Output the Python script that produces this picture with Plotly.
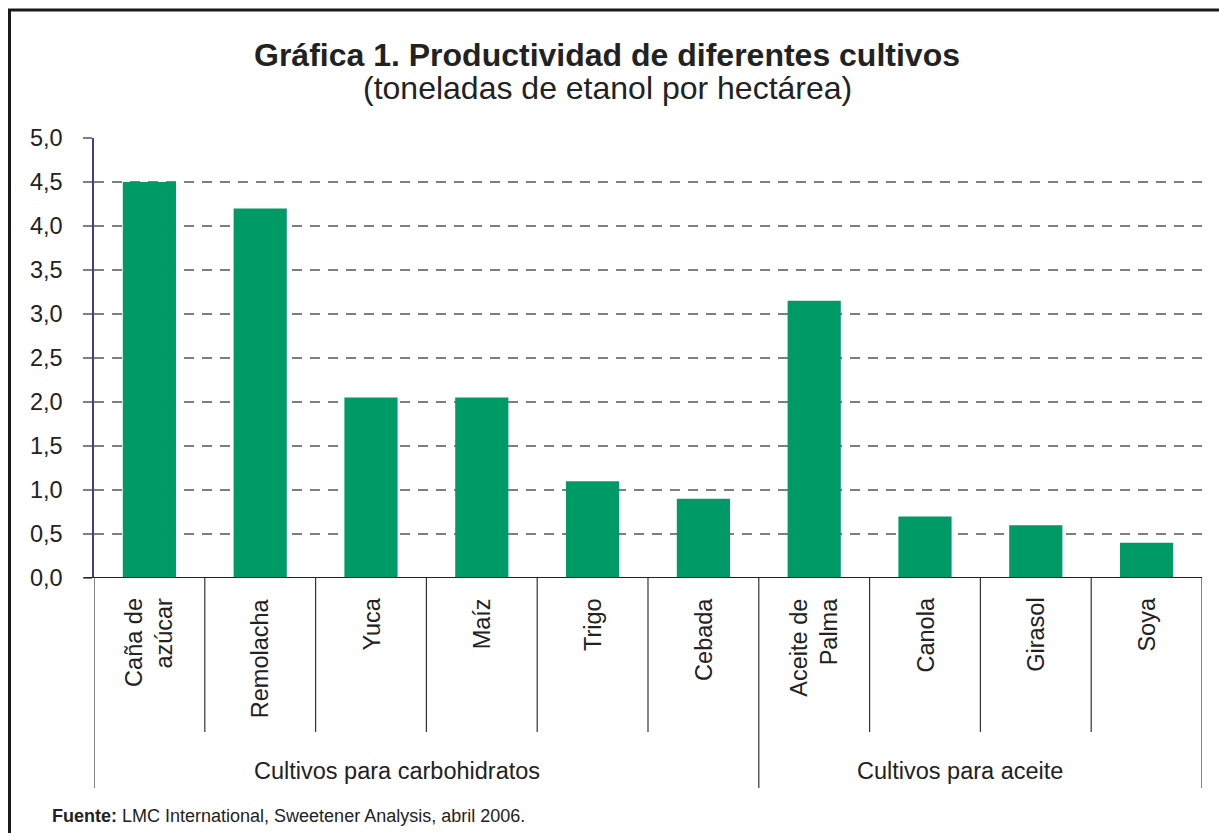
import plotly.graph_objects as go

crops = ["Caña de<br>azúcar", "Remolacha", "Yuca", "Maíz", "Trigo", "Cebada",
         "Aceite de<br>Palma", "Canola", "Girasol", "Soya"]
tons_per_ha = [4.5, 4.2, 2.05, 2.05, 1.1, 0.9, 3.15, 0.7, 0.6, 0.4]
groups = ["Cultivos para carbohidratos", "Cultivos para aceite"]
group_sizes = [6, 4]
y_ticks = [0, 0.5, 1, 1.5, 2, 2.5, 3, 3.5, 4, 4.5, 5]
y_tick_labels = ["0,0", "0,5", "1,0", "1,5", "2,0", "2,5", "3,0", "3,5", "4,0", "4,5", "5,0"]

W, H = 1219, 833
L, R, T, B = 94, 17, 138, 255
PW, PH = W - L - R, H - T - B


def px(x):
    return (x - L) / PW


def py(y):
    return (H - B - y) / PH


FONT = "Arial, Liberation Sans, sans-serif"
x_pos = list(range(len(crops)))

fig = go.Figure()
fig.add_trace(
    go.Bar(
        x=x_pos,
        y=tons_per_ha,
        width=0.48,
        marker=dict(color="#009a66", line=dict(width=0)),
        hoverinfo="skip",
    )
)

shapes = []
# outer frame
shapes.append(dict(type="rect", xref="paper", yref="paper",
                   x0=px(9.5), x1=px(1240), y0=py(10), y1=py(860),
                   line=dict(color="#1a1a1a", width=3)))
# x axis baseline
shapes.append(dict(type="line", xref="paper", yref="y", x0=px(84), x1=1,
                   y0=0, y1=0, line=dict(color="#222222", width=2)))
# category dividers
bounds = [0]
for n in group_sizes:
    bounds.append(bounds[-1] + n)
for i in range(len(crops) + 1):
    long_line = i in bounds
    shapes.append(dict(type="line", xref="x", yref="paper",
                       x0=i - 0.5, x1=i - 0.5, y0=0,
                       y1=py(788) if long_line else py(732),
                       line=dict(color="#333333", width=1.2)))

annotations = [
    dict(text="<b>Gráfica 1. Productividad de diferentes cultivos</b>",
         xref="paper", yref="paper", x=px(607), y=py(55),
         xanchor="center", yanchor="middle",
         showarrow=False, font=dict(size=32, color="#222222", family=FONT)),
    dict(text="(toneladas de etanol por hectárea)",
         xref="paper", yref="paper", x=px(607), y=py(88),
         xanchor="center", yanchor="middle",
         showarrow=False, font=dict(size=32, color="#222222", family=FONT)),
    dict(text="<b>Fuente:</b> LMC International, Sweetener Analysis, abril 2006.",
         xref="paper", yref="paper", x=px(50), y=py(816),
         xanchor="left", yanchor="middle",
         showarrow=False, font=dict(size=18, color="#222222", family=FONT)),
]
for i, name in enumerate(crops):
    annotations.append(dict(text=name, xref="x", yref="paper", x=i, y=py(596),
                            xanchor="center", yanchor="top", textangle=-90,
                            align="right", showarrow=False,
                            font=dict(size=23.5, color="#222222", family=FONT)))
group_centers = [397, 960]
for g, cx in zip(groups, group_centers):
    annotations.append(dict(text=g, xref="paper", yref="paper", x=px(cx),
                            y=py(771), xanchor="center", yanchor="middle",
                            showarrow=False,
                            font=dict(size=23.5, color="#222222", family=FONT)))

fig.update_layout(
    width=W, height=H,
    margin=dict(l=L, r=R, t=T, b=B),
    paper_bgcolor="white", plot_bgcolor="white",
    showlegend=False,
    shapes=shapes,
    annotations=annotations,
    font=dict(family=FONT, color="#222222"),
    xaxis=dict(range=[-0.5, len(crops) - 0.5], showticklabels=False,
               showgrid=False, zeroline=False, showline=False, ticks=""),
    yaxis=dict(range=[0, 5], tickvals=y_ticks, ticktext=y_tick_labels,
               showgrid=True, gridcolor="#7f7f7f", gridwidth=1.5,
               griddash="10px,8px", zeroline=False,
               showline=True, linecolor="#3b3f8c", linewidth=1.5,
               ticks="outside", ticklen=9, tickcolor="#7f7f7f", tickwidth=1.5,
               ticklabelstandoff=16,
               tickfont=dict(size=23.5, color="#222222", family=FONT)),
)

fig.write_html("out.html", config={"displayModeBar": False},
               post_script="document.body.style.margin='0';")
